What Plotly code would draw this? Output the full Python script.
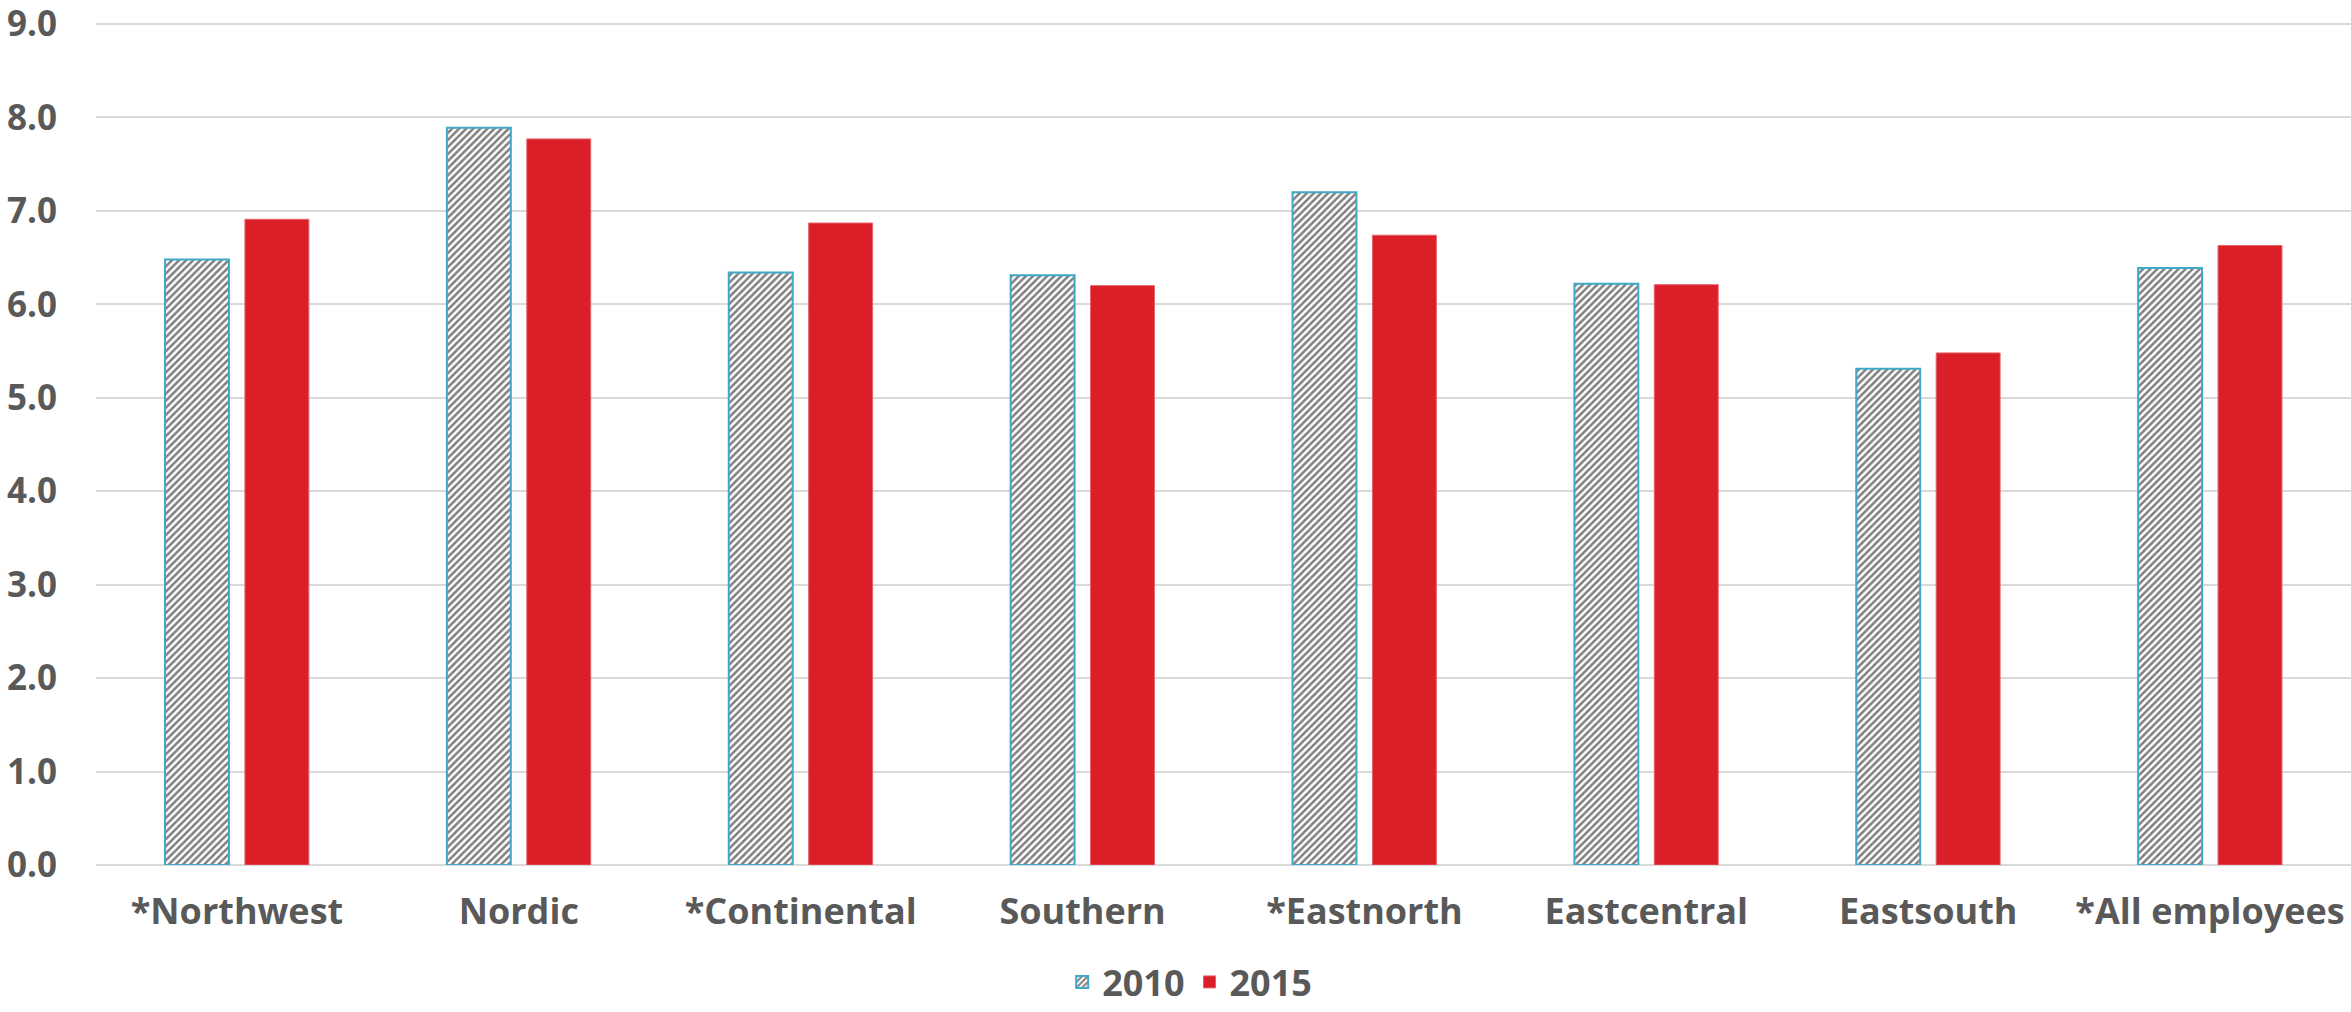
import plotly.graph_objects as go

# Categories and values for each survey year
regions = ["*Northwest", "Nordic", "*Continental", "Southern",
           "*Eastnorth", "Eastcentral", "Eastsouth", "*All employees"]
values_2010 = [6.48, 7.89, 6.34, 6.31, 7.20, 6.22, 5.31, 6.39]
values_2015 = [6.91, 7.77, 6.87, 6.20, 6.74, 6.21, 5.48, 6.63]
y_ticks = [0, 1, 2, 3, 4, 5, 6, 7, 8, 9]

text_color = "#595959"
font_family = "Open Sans, Lato, sans-serif"

fig = go.Figure()
fig.add_trace(go.Bar(
    name="2010", x=regions, y=values_2010,
    marker=dict(
        color="white",
        line=dict(color="#3FA9C8", width=2),
        pattern=dict(shape="/", fgcolor="black", bgcolor="white",
                     size=5, solidity=0.5),
    ),
))
fig.add_trace(go.Bar(
    name="2015", x=regions, y=values_2015,
    marker=dict(color="#DA1F29", line=dict(color="#E6636B", width=1)),
))

fig.update_layout(
    width=2351, height=1012,
    margin=dict(l=96, r=0, t=18, b=147),
    paper_bgcolor="white", plot_bgcolor="white",
    barmode="group", bargap=0.433, bargroupgap=0.2,
    font=dict(family=font_family, size=36, color=text_color),
    showlegend=True,
    legend=dict(
        orientation="h", x=0.485, xanchor="center",
        y=-0.174, yanchor="bottom",
        font=dict(family=font_family, size=36, color=text_color, weight="bold"),
        itemwidth=30, traceorder="normal",
    ),
)
fig.update_xaxes(
    showgrid=False, showline=False, zeroline=False, automargin=False,
    tickfont=dict(family=font_family, size=36, color=text_color, weight="bold"),
    ticklabelstandoff=22,
)
fig.update_yaxes(
    range=[0, 9.064], tickvals=y_ticks, tickformat=".1f", automargin=False,
    ticklabeloverflow="allow",
    showgrid=True, gridcolor="#D9D9D9", gridwidth=2,
    zeroline=True, zerolinecolor="#D9D9D9", zerolinewidth=2,
    showline=False,
    tickfont=dict(family=font_family, size=35, color=text_color, weight="bold"),
    ticklabelstandoff=38,
)

fig.write_html("out.html")
